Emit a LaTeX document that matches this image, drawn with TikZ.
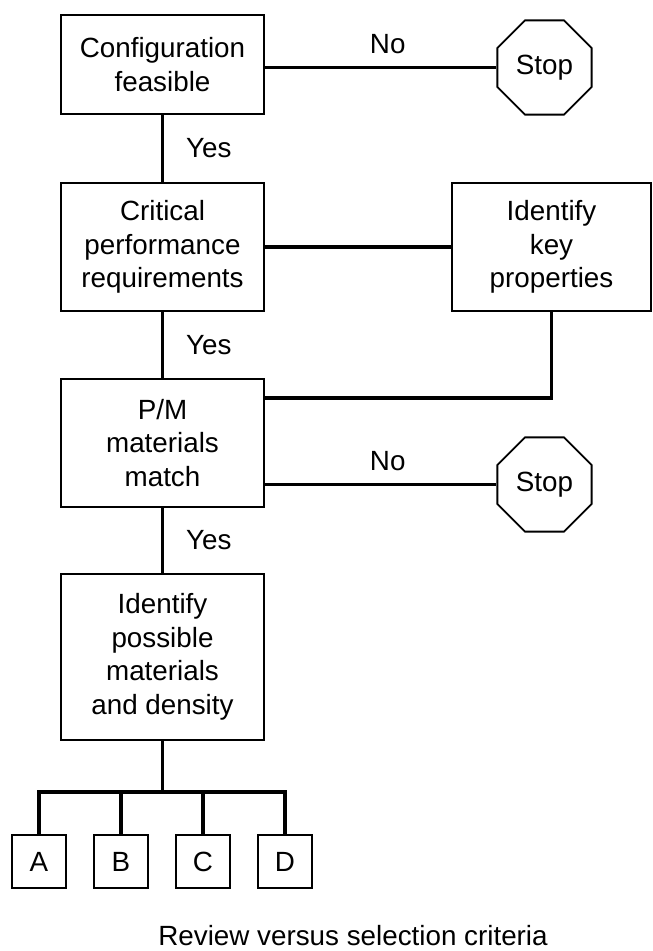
\documentclass[tikz,border=0pt]{standalone}
\usepackage{fontspec}
\setmainfont{Liberation Sans}
\usetikzlibrary{shapes.geometric}

\tikzset{
  box/.style={draw, line width=1.1pt, align=center, inner sep=0pt,
    minimum width=101.5pt},
  stopsign/.style={draw, line width=0.9pt, regular polygon, regular polygon sides=8,
    inner sep=0pt, minimum size=51pt},
  choice/.style={draw, line width=1.1pt, inner sep=0pt,
    minimum width=27pt, minimum height=26.5pt},
  link/.style={line width=1.6pt},
  lbl/.style={inner sep=0pt}
}

\begin{document}
\begin{tikzpicture}[x=0.5pt, y=-0.5pt, font=\fontsize{13.9}{16.8}\selectfont]
            \useasboundingbox (0,0) rectangle (652,951);

            % main column
            \node[box, minimum height=49.5pt] (conf) at (162.5,64.5) {Configuration\\feasible};
            \node[box, minimum height=64pt] (crit) at (162.5,247) {Critical\\performance\\requirements};
            \node[box, minimum height=64pt] (pm) at (162.5,443) {P/M\\materials\\match};
            \node[box, minimum height=83pt] (ident) at (162.5,657) {Identify\\possible\\materials\\and density};

            % side branches
            \node[box, minimum width=99.5pt, minimum height=64pt] (keyprop) at (551.5,247) {Identify\\key\\properties};
            \node[stopsign] (stop1) at (544.5,67.5) {Stop};
            \node[stopsign] (stop2) at (544.5,484.5) {Stop};

            % candidate materials
            \node[choice] (A) at (39,861.5) {A};
            \node[choice] (B) at (121,861.5) {B};
            \node[choice] (C) at (203,861.5) {C};
            \node[choice] (D) at (285,861.5) {D};

            \node[lbl, anchor=base] (caption) at (353,945) {Review versus selection criteria};

            \draw[link] (conf) -- node[lbl, right=11pt] (y1) {Yes} (crit);
            \draw[link] (crit) -- node[lbl, right=11pt] (y2) {Yes} (pm);
            \draw[link] (pm) -- node[lbl, right=11pt] (y3) {Yes} (ident);

            \draw[link] (stop1.west -| conf.east) -- node[lbl, pos=0.53, above=6pt] (n1) {No} (stop1.west);
            \draw[link] (stop2.west -| pm.east) -- node[lbl, pos=0.53, above=6pt] (n2) {No} (stop2.west);

            \draw[link] (crit.east) -- (keyprop.west);
            \coordinate (join) at (keyprop.south |- 0,398);
            \draw[link] (keyprop.south) -- (join) -- (join -| pm.east);

            \coordinate (bus) at (ident.south |- 0,792);
            \foreach \s in {A,B,C,D}
                \draw[link] (ident.south) -- (bus) -| (\s.north);
        \end{tikzpicture}
\end{document}
